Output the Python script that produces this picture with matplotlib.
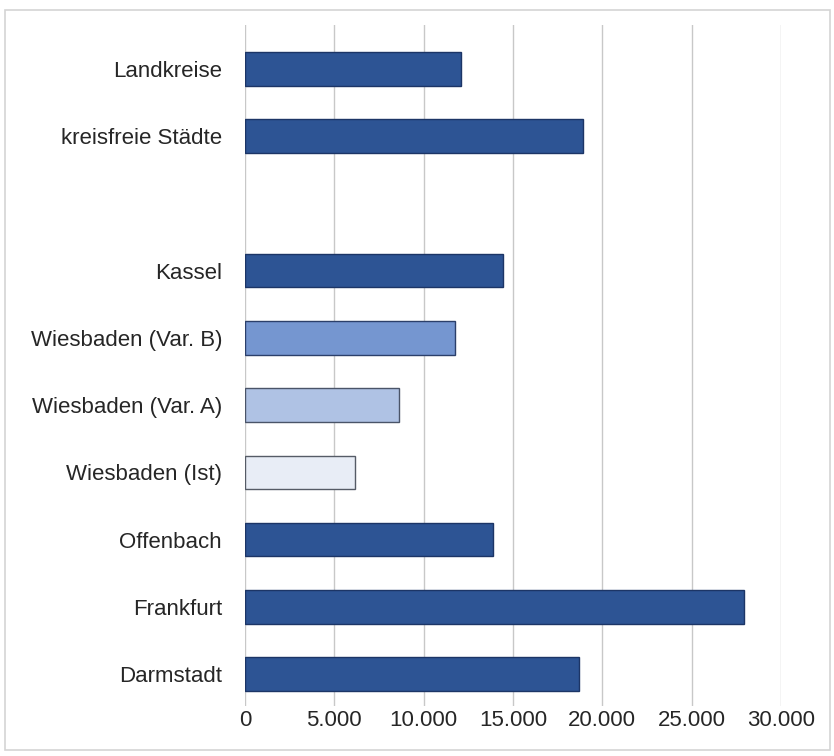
import matplotlib
matplotlib.use("Agg")
import matplotlib.pyplot as plt
from matplotlib.patches import Rectangle
from matplotlib.ticker import FuncFormatter

plt.rcParams['font.family'] = ['Liberation Sans', 'DejaVu Sans']

categories = ["Landkreise", "kreisfreie Städte", "", "Kassel",
              "Wiesbaden (Var. B)", "Wiesbaden (Var. A)", "Wiesbaden (Ist)",
              "Offenbach", "Frankfurt", "Darmstadt"]
values = [12090, 18920, None, 14460, 11760, 8600, 6140, 13900, 27920, 18700]

dark = "#2D5494"
fills = [dark, dark, None, dark, "#7596D0", "#AFC2E4", "#E8EDF6", dark, dark, dark]
edges = ["#1C3566", "#1C3566", None, "#1C3566", "#2B3F6A", "#4A5468", "#555B66",
         "#1C3566", "#1C3566", "#1C3566"]

xticks = [0, 5000, 10000, 15000, 20000, 25000, 30000]

fig = plt.figure(figsize=(8.34, 7.56), dpi=100)
fig.patch.set_facecolor("white")
fig.patches.append(Rectangle((5 / 834, 6 / 756), 825 / 834, 740 / 756,
                             transform=fig.transFigure, fill=False,
                             edgecolor="#D4D4D4", linewidth=1.2))

ax = fig.add_axes([245 / 834, 1 - 706 / 756, 536 / 834, 681 / 756])

for i, (v, fc, ec) in enumerate(zip(values, fills, edges)):
    if v is None:
        continue
    ax.barh(i, v, height=0.5, color=fc, edgecolor=ec, linewidth=1.0, zorder=3)

ax.set_yticks([i for i, c in enumerate(categories) if c])
ax.set_yticklabels([c for c in categories if c], fontsize=16, color="#262626")
ax.set_ylim(9.476, -0.655)
ax.set_xlim(0, 30000)
ax.set_xticks(xticks)
ax.xaxis.set_major_formatter(FuncFormatter(lambda x, p: f"{int(x):,}".replace(",", ".")))
ax.tick_params(axis="x", labelsize=16, colors="#262626", length=0, pad=3)
ax.tick_params(axis="y", length=0, pad=16.5)
ax.grid(axis="x", color="#C8C8C8", linewidth=1.0, zorder=0)
for s in ax.spines.values():
    s.set_visible(False)

fig.savefig("out.png", dpi=100, facecolor="white")
